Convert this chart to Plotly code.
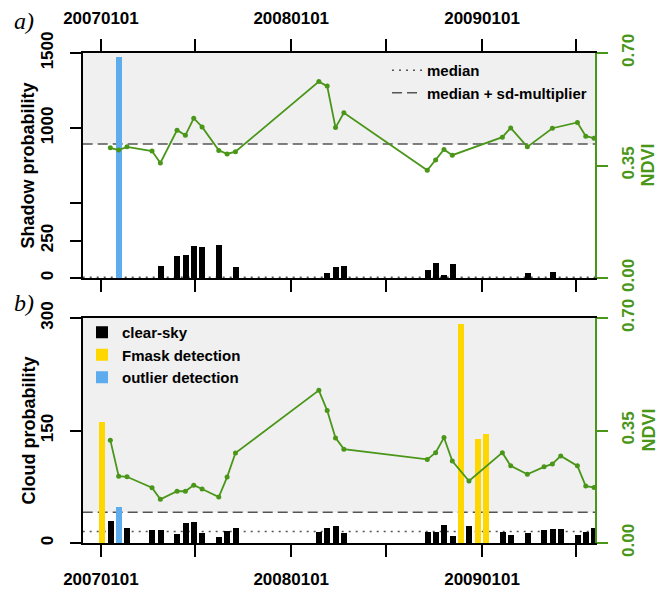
import plotly.graph_objects as go

# ---------------- data ----------------
# panel a) shadow probability
shadow_clear_dates = ["2007-04-25", "2007-05-27", "2007-06-12", "2007-06-28", "2007-07-14",
                      "2007-08-15", "2007-09-16", "2008-03-10", "2008-03-26", "2008-04-11",
                      "2008-09-18", "2008-10-04", "2008-10-20", "2008-11-05", "2009-03-29",
                      "2009-05-16"]
shadow_clear = [80, 149, 156, 213, 209, 222, 71, 36, 71, 80, 53, 102, 20, 93, 36, 42]
shadow_outlier_dates = ["2007-02-04"]
shadow_outlier = [1475]
shadow_median = 5
shadow_threshold = 893

ndvi_a_dates = ["2007-01-19", "2007-02-04", "2007-02-20", "2007-04-09", "2007-04-25",
                "2007-05-27", "2007-06-12", "2007-06-28", "2007-07-14", "2007-08-15",
                "2007-08-31", "2007-09-16", "2008-02-23", "2008-03-10", "2008-03-26",
                "2008-04-11", "2008-09-18", "2008-10-04", "2008-10-20", "2008-11-05",
                "2009-02-09", "2009-02-25", "2009-03-29", "2009-05-16", "2009-07-03",
                "2009-07-19", "2009-08-04"]
ndvi_a = [0.405, 0.398, 0.408, 0.395, 0.358, 0.460, 0.444, 0.497, 0.470, 0.397,
          0.386, 0.393, 0.611, 0.597, 0.468, 0.514, 0.335, 0.367, 0.400, 0.382,
          0.438, 0.467, 0.408, 0.466, 0.484, 0.441, 0.435]

# panel b) cloud probability
cloud_clear_dates = ["2007-01-19", "2007-02-20", "2007-04-09", "2007-04-25", "2007-05-27",
                     "2007-06-12", "2007-06-28", "2007-07-14", "2007-08-15", "2007-08-31",
                     "2007-09-16", "2008-02-23", "2008-03-10", "2008-03-26", "2008-04-11",
                     "2008-09-18", "2008-10-04", "2008-10-20", "2008-11-05", "2008-12-07",
                     "2009-02-09", "2009-02-25", "2009-03-29", "2009-04-30", "2009-05-16",
                     "2009-06-01", "2009-07-03", "2009-07-19", "2009-08-04"]
cloud_clear = [28.9, 20.5, 16.9, 17.8, 12, 26.2, 27.5, 13.8, 8.5, 15.6,
               20.5, 14.6, 20.5, 22.2, 13.8, 15, 15, 23.5, 10, 22.7,
               15, 11, 13.8, 17.3, 19, 18.2, 11, 14.6, 20.5]
cloud_fmask_dates = ["2007-01-03", "2008-11-21", "2008-12-23", "2009-01-08"]
cloud_fmask = [161, 292, 139, 145.6]
cloud_outlier_dates = ["2007-02-04"]
cloud_outlier = [47.5]
cloud_median = 15.2
cloud_threshold = 41

ndvi_b_dates = ["2007-01-19", "2007-02-04", "2007-02-20", "2007-04-09", "2007-04-25",
                "2007-05-27", "2007-06-12", "2007-06-28", "2007-07-14", "2007-08-15",
                "2007-08-31", "2007-09-16", "2008-02-23", "2008-03-10", "2008-03-26",
                "2008-04-11", "2008-09-18", "2008-10-04", "2008-10-20", "2008-11-05",
                "2008-12-07", "2009-02-09", "2009-02-25", "2009-03-29", "2009-04-30",
                "2009-05-16", "2009-06-01", "2009-07-03", "2009-07-19", "2009-08-04"]
ndvi_b = [0.320, 0.208, 0.206, 0.172, 0.136, 0.161, 0.161, 0.180, 0.168, 0.143,
          0.205, 0.280, 0.475, 0.412, 0.327, 0.292, 0.260, 0.281, 0.328, 0.255,
          0.193, 0.281, 0.240, 0.214, 0.237, 0.246, 0.271, 0.240, 0.177, 0.173]

x_tick_dates = ["2007-01-01", "2007-07-01", "2008-01-01", "2008-07-01", "2009-01-01", "2009-07-01"]
x_tick_text = ["20070101", "", "20080101", "", "20090101", ""]
shadow_ticks = [0, 250, 500, 1000, 1500]
shadow_tick_text = ["0", "250", "", "1000", "1500"]
cloud_ticks = [0, 150, 300]
cloud_tick_text = ["0", "150", "300"]
ndvi_ticks = [0, 0.35, 0.70]
ndvi_tick_text = ["0.00", "0.35", "0.70"]

# ---------------- style ----------------
W, H = 659, 591
GREEN = "#4a9619"
BLUE = "#5CACEE"
GOLD = "#FFD700"
SHADE = "#f0f0f0"
LINEGRAY = "#555555"
FONT = "Liberation Sans, Arial, sans-serif"
BAR_W = 11.5 * 86400000
XR = ["2006-11-27", "2009-08-05 18:00"]

xdom = [82.7 / W, 595 / W]
ydom_a = [1 - 278 / H, 1 - 53 / H]
ydom_b = [1 - 543 / H, 1 - 318 / H]

fig = go.Figure()

# panel a bars
fig.add_trace(go.Bar(x=shadow_clear_dates, y=shadow_clear, width=BAR_W, marker=dict(color="black", line=dict(width=0)),
                     xaxis="x", yaxis="y", showlegend=False))
fig.add_trace(go.Bar(x=shadow_outlier_dates, y=shadow_outlier, width=BAR_W, marker=dict(color=BLUE, line=dict(width=0)),
                     xaxis="x", yaxis="y", showlegend=False))
# legend entries for the reference lines (panel a)
fig.add_trace(go.Scatter(x=[None], y=[None], mode="lines", name="median",
                         line=dict(color=LINEGRAY, width=1.5, dash="2px,5px"), xaxis="x", yaxis="y", legend="legend"))
fig.add_trace(go.Scatter(x=[None], y=[None], mode="lines", name="median + sd-multiplier",
                         line=dict(color=LINEGRAY, width=1.5, dash="10px,5px"), xaxis="x", yaxis="y", legend="legend"))
# panel a NDVI
fig.add_trace(go.Scatter(x=ndvi_a_dates, y=ndvi_a, mode="lines+markers", line=dict(color=GREEN, width=1.8),
                         marker=dict(color=GREEN, size=5), xaxis="x", yaxis="y2", showlegend=False))

# panel b bars
fig.add_trace(go.Bar(x=cloud_clear_dates, y=cloud_clear, width=BAR_W, name="clear-sky",
                     marker=dict(color="black", line=dict(width=0)), xaxis="x2", yaxis="y3", legend="legend2"))
fig.add_trace(go.Bar(x=cloud_fmask_dates, y=cloud_fmask, width=BAR_W, name="Fmask detection",
                     marker=dict(color=GOLD, line=dict(width=0)), xaxis="x2", yaxis="y3", legend="legend2"))
fig.add_trace(go.Bar(x=cloud_outlier_dates, y=cloud_outlier, width=BAR_W, name="outlier detection",
                     marker=dict(color=BLUE, line=dict(width=0)), xaxis="x2", yaxis="y3", legend="legend2"))
# panel b NDVI
fig.add_trace(go.Scatter(x=ndvi_b_dates, y=ndvi_b, mode="lines+markers", line=dict(color=GREEN, width=1.8),
                         marker=dict(color=GREEN, size=5), xaxis="x2", yaxis="y4", showlegend=False))

shapes = []
for xr, yr, med, thr, top in [("x", "y", shadow_median, shadow_threshold, 1500),
                              ("x2", "y3", cloud_median, cloud_threshold, 300)]:
    shapes.append(dict(type="rect", xref=xr + " domain", yref=yr, x0=0, x1=1, y0=thr, y1=top,
                       fillcolor=SHADE, line=dict(width=0), layer="below"))
    shapes.append(dict(type="line", xref=xr + " domain", yref=yr, x0=0, x1=1, y0=med, y1=med,
                       line=dict(color=LINEGRAY, width=1.5, dash="2px,5px"), layer="below"))
    shapes.append(dict(type="line", xref=xr + " domain", yref=yr, x0=0, x1=1, y0=thr, y1=thr,
                       line=dict(color=LINEGRAY, width=1.5, dash="10px,5px"), layer="below"))

tickfont = dict(family=FONT, size=17, color="black", weight="bold")
gtickfont = dict(family=FONT, size=17, color=GREEN, weight="bold")

common_x = dict(type="date", range=XR, domain=xdom, tickvals=x_tick_dates, ticktext=x_tick_text,
                ticks="outside", ticklen=12, tickwidth=1.5, tickcolor="black", showline=True,
                linecolor="black", linewidth=1.5, showgrid=False, zeroline=False, tickfont=tickfont,
                automargin=False, ticklabelstandoff=8)
common_y = dict(ticks="outside", ticklen=11, tickwidth=1.5, tickcolor="black", showline=True,
                linecolor="black", linewidth=1.5, showgrid=False, zeroline=False, tickfont=tickfont,
                tickangle=-90, automargin=False, ticklabelstandoff=10)
common_g = dict(range=[0, 0.7], tickvals=ndvi_ticks, ticktext=ndvi_tick_text, side="right",
                ticks="outside", ticklen=11, tickwidth=1.5, tickcolor=GREEN, showline=True,
                linecolor=GREEN, linewidth=2, showgrid=False, zeroline=False, tickfont=gtickfont,
                tickangle=-90, automargin=False, ticklabelstandoff=6)

def ann(text, x, y, size, color="black", family=FONT, weight="bold", angle=0):
    return dict(text=text, xref="paper", yref="paper", x=x / W, y=1 - y / H, xanchor="center",
                yanchor="middle", textangle=angle, showarrow=False,
                font=dict(family=family, size=size, color=color, weight=weight))

fig.update_layout(
    width=W, height=H, margin=dict(l=0, r=0, t=0, b=0),
    paper_bgcolor="white", plot_bgcolor="white",
    barmode="overlay", bargap=0,
    font=dict(family=FONT, color="black"),
    xaxis=dict(common_x, anchor="y", side="top", mirror="ticks"),
    yaxis=dict(common_y, domain=ydom_a, anchor="x", range=[0, 1500], tickvals=shadow_ticks,
               ticktext=shadow_tick_text),
    yaxis2=dict(common_g, domain=ydom_a, anchor="x", overlaying="y"),
    xaxis2=dict(common_x, anchor="y3", side="bottom", mirror=True),
    yaxis3=dict(common_y, domain=ydom_b, anchor="x2", range=[0, 300], tickvals=cloud_ticks,
                ticktext=cloud_tick_text),
    yaxis4=dict(common_g, domain=ydom_b, anchor="x2", overlaying="y3"),
    shapes=shapes,
    legend=dict(x=387 / W, y=1 - 54 / H, xanchor="left", yanchor="top", bgcolor="rgba(0,0,0,0)",
                font=dict(family=FONT, size=15, color="black", weight="bold"), tracegroupgap=0),
    legend2=dict(x=82 / W, y=1 - 316 / H, xanchor="left", yanchor="top", bgcolor="rgba(0,0,0,0)",
                 font=dict(family=FONT, size=15, color="black", weight="bold"), tracegroupgap=0),
    annotations=[
        ann("Shadow probability", 28, 165.5, 18, angle=-90),
        ann("Cloud probability", 28, 430.5, 18, angle=-90),
        ann("NDVI", 648, 165.5, 18, color=GREEN, angle=-90),
        ann("NDVI", 648, 430.5, 18, color=GREEN, angle=-90),
        ann("<i>a)</i>", 24, 21, 24, family="Liberation Serif, serif", weight="normal"),
        ann("<i>b)</i>", 24, 303, 24, family="Liberation Serif, serif", weight="normal"),
    ],
)

fig.write_html("out.html", config={"displayModeBar": False},
               post_script="document.body.style.margin='0';document.body.style.overflow='hidden';")
